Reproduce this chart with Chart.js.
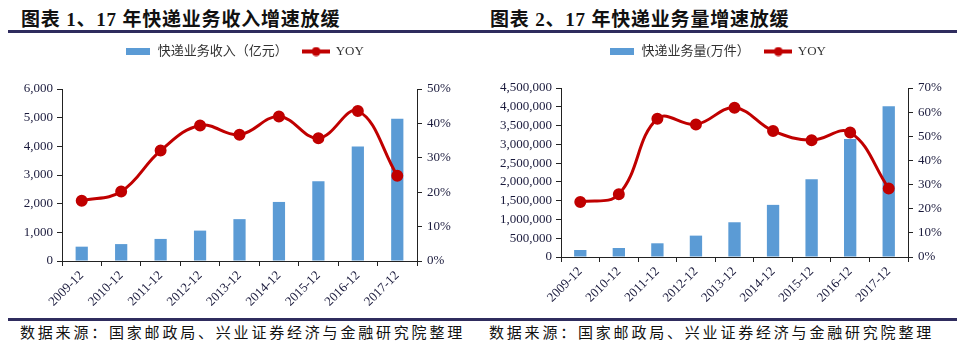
<!DOCTYPE html>
<html><head><meta charset="utf-8">
<script src="https://cdn.jsdelivr.net/npm/chart.js@4.4.1/dist/chart.umd.min.js"></script>
<style>
html,body{margin:0;padding:0;background:#fff;width:970px;height:350px;overflow:hidden;position:relative}
.title{position:absolute;top:8px;font:700 19px "Liberation Serif","Noto Sans CJK SC";letter-spacing:0.8px;color:#111;white-space:nowrap;line-height:24px}
.rule{position:absolute;height:3px;background:#2F2C5E}
.src{position:absolute;top:322px;font:400 15px "Noto Sans CJK SC";letter-spacing:2.8px;color:#111;white-space:nowrap;line-height:20px}
.box{position:absolute;top:36px;height:279px;width:485px}
</style></head><body>
<div class="title" style="left:21px">图表 1、17 年快递业务收入增速放缓</div>
<div class="title" style="left:490px">图表 2、17 年快递业务量增速放缓</div>
<div class="rule" style="left:8px;width:949px;top:30px"></div>
<div class="rule" style="left:8px;width:949px;top:318px"></div>
<div class="box" style="left:0"><canvas id="c1" width="485" height="279"></canvas></div>
<div class="box" style="left:485px"><canvas id="c2" width="485" height="279"></canvas></div>
<div class="src" style="left:20px">数据来源：国家邮政局、兴业证券经济与金融研究院整理</div>
<div class="src" style="left:489px">数据来源：国家邮政局、兴业证券经济与金融研究院整理</div>
<script>
const categories = ['2009-12','2010-12','2011-12','2012-12','2013-12','2014-12','2015-12','2016-12','2017-12'];
const revenue = [500, 590, 770, 1060, 1460, 2060, 2780, 3990, 4960];
const revenueYoy = [17.5, 20.2, 32.1, 39.4, 36.7, 42.0, 35.7, 43.6, 24.8];
const volume = [187000, 240000, 365000, 569000, 925000, 1388000, 2073000, 3140000, 4012000];
const volumeYoy = [22.8, 26.0, 57.3, 54.9, 61.8, 52.2, 48.4, 51.6, 28.4];
const revenueLabel = '快递业务收入（亿元）';
const volumeLabel = '快递业务量(万件）';
const yoyLabel = 'YOY';

const BAR = '#5B9BD5', RED = '#C00000', TXT = '#1A1A3C', AX = '#222222';
Chart.defaults.font.family = '"Liberation Serif", "Noto Sans CJK SC"';
Chart.defaults.font.size = 13;
Chart.defaults.color = TXT;

function icon(kind){
  const c = document.createElement('canvas');
  if (kind === 'bar') { c.width = 24; c.height = 7; const x = c.getContext('2d'); x.fillStyle = BAR; x.fillRect(0,0,24,7); }
  else { c.width = 28; c.height = 10; const x = c.getContext('2d'); x.strokeStyle = RED; x.lineWidth = 4; x.beginPath(); x.moveTo(0,5); x.lineTo(28,5); x.stroke(); x.fillStyle = RED; x.beginPath(); x.arc(14,5,4.5,0,Math.PI*2); x.fill(); }
  return c;
}
const barIcon = icon('bar'), lineIcon = icon('line');

function legendTop(dx){
  return {
    id: 'legendTop',
    afterLayout(chart){
      const L = chart.legend; if (!L) return;
      const h = L.bottom - L.top; L.top = 0; L.bottom = h;
      L.left += dx; L.right += dx;
    }
  };
}

function build(id, bars, yoy, barLabel, cfg){
  new Chart(document.getElementById(id), {
    type: 'bar',
    data: { labels: categories, datasets: [
      { type:'bar', label: barLabel, data: bars, backgroundColor: BAR, barPercentage: cfg.barPct, categoryPercentage: 1, yAxisID:'y', order: 2 },
      { type:'line', label: yoyLabel, data: yoy, borderColor: RED, backgroundColor: RED, borderWidth: 3, pointRadius: 4.5, pointBackgroundColor: RED, pointBorderColor: RED, tension: 0.4, yAxisID:'y1', order: 1 }
    ]},
    plugins: [legendTop(cfg.legendDx)],
    options: {
      responsive: false, animation: false,
      layout: { padding: 0 },
      plugins: {
        tooltip: { enabled: false },
        legend: { position: 'top', labels: {
          usePointStyle: true, pointStyleWidth: 26, padding: 9, color: '#333', font: { size: 13 },
          sort: (a, b) => a.datasetIndex - b.datasetIndex,
          generateLabels(chart){
            const items = Chart.defaults.plugins.legend.labels.generateLabels(chart);
            items.forEach(it => {
              if (it.datasetIndex === 0) { it.pointStyle = barIcon; it.text = it.text + '\u3000'; }
              else { it.pointStyle = lineIcon; }
            });
            return items;
          }
        }}
      },
      scales: {
        x: {
          offset: true,
          grid: { offset: true, drawOnChartArea: false, drawTicks: true, tickLength: 5, color: AX },
          border: { display: true, color: AX },
          ticks: { maxRotation: 45, minRotation: 45, padding: 2, autoSkip: false, color: TXT },
          afterFit(s){ s.height = cfg.xHeight; s.paddingLeft = 0; s.paddingRight = 0; }
        },
        y: {
          position: 'left', min: 0, max: cfg.leftMax,
          grid: { drawOnChartArea: false, drawTicks: true, tickLength: 5, color: AX },
          border: { display: true, color: AX },
          ticks: { stepSize: cfg.leftStep, padding: 4, color: TXT, callback: v => v.toLocaleString('en-US') },
          afterFit(s){ s.width = cfg.leftW; s.paddingTop = cfg.top; s.paddingBottom = 0; }
        },
        y1: {
          position: 'right', min: 0, max: cfg.rightMax,
          grid: { drawOnChartArea: false, drawTicks: true, tickLength: 5, color: AX },
          border: { display: true, color: AX },
          ticks: { stepSize: cfg.rightStep, padding: 5, color: TXT, callback: v => v + '%' },
          afterFit(s){ s.width = cfg.rightW; s.paddingTop = cfg.top; s.paddingBottom = 0; }
        }
      }
    }
  });
}

build('c1', revenue, revenueYoy, revenueLabel, { leftMax: 6000, leftStep: 1000, rightMax: 50, rightStep: 5, leftW: 62, rightW: 68, top: 53, xHeight: 54, barPct: 0.31, legendDx: 2 });
build('c2', volume, volumeYoy, volumeLabel, { leftMax: 4500000, leftStep: 500000, rightMax: 70, rightStep: 10, leftW: 76, rightW: 62, top: 52, xHeight: 58, barPct: 0.32, legendDx: -10 });
</script>
</body></html>
